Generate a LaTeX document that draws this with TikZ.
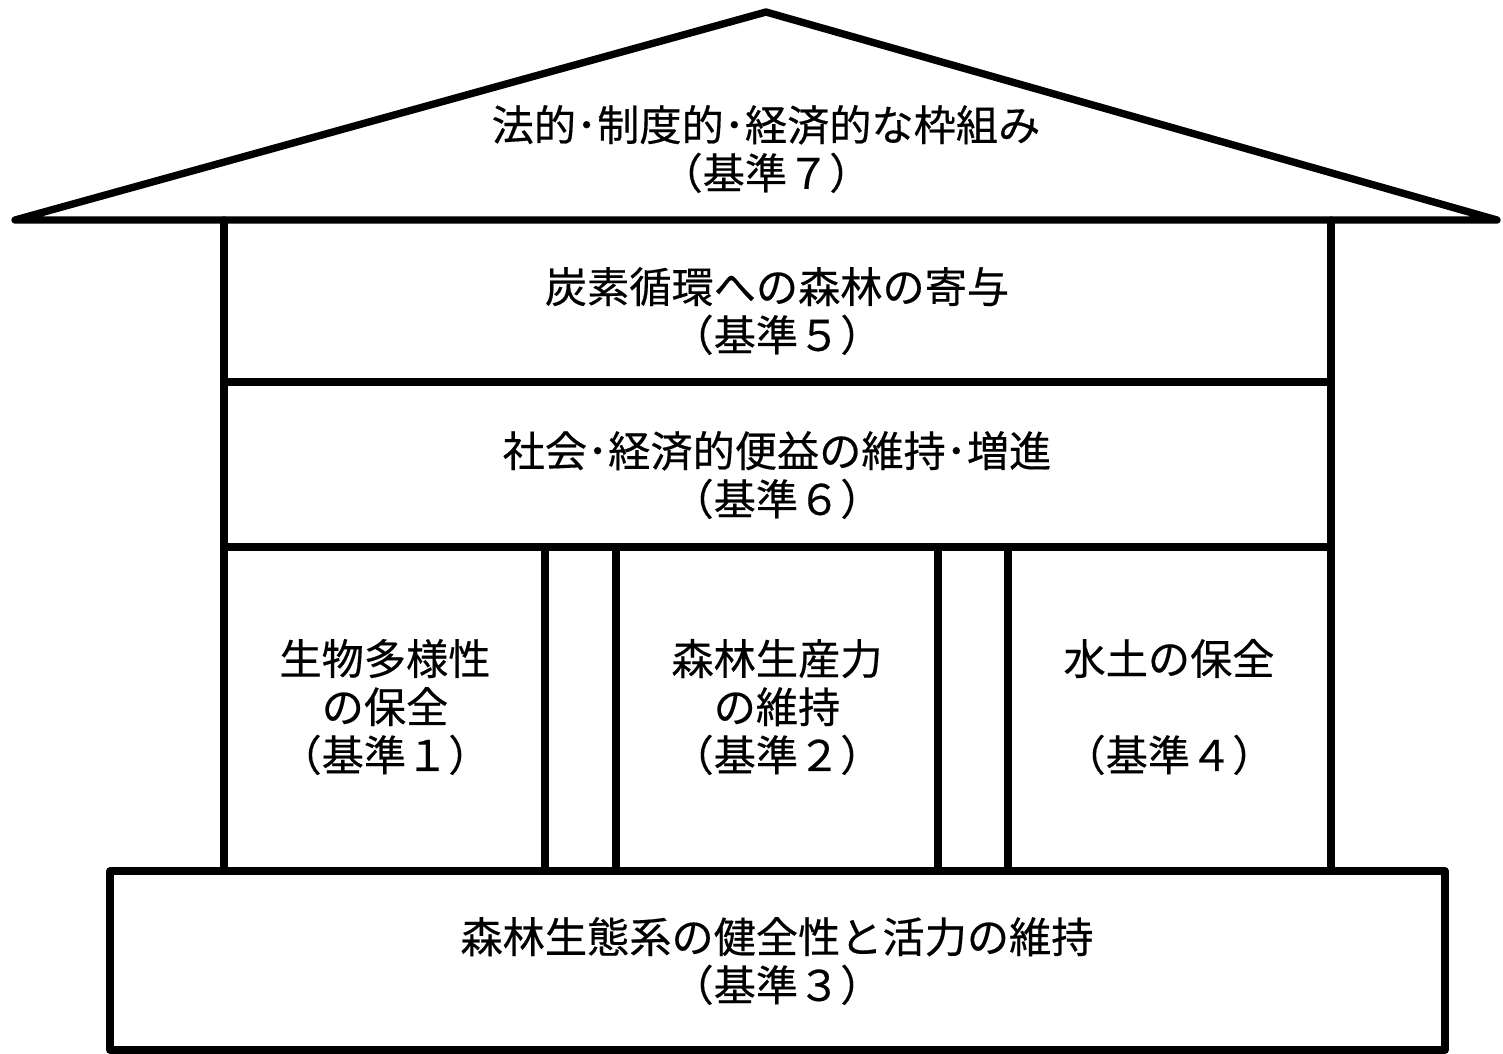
\documentclass[tikz,border=0pt]{standalone}
\usepackage{fontspec}
\newfontfamily\jp[FakeBold=0.4]{Noto Sans CJK JP}
\begin{document}
\begin{tikzpicture}[x=0.01cm,y=-0.01cm,
  ln/.style={line width=2.1pt,line join=round,line cap=round},
  lbl/.style={font=\jp\fontsize{12pt}{13.7pt}\selectfont,align=center,inner sep=0pt}]
\useasboundingbox (0,0) rectangle (1503,1053);
% roof
\draw[ln] (15,220) -- (766,12) -- (1497,220) -- cycle;
% walls
\draw[ln] (224,220) -- (224,871);
\draw[ln] (1331,220) -- (1331,871);
\draw[ln] (224,382) -- (1331,382);
\draw[ln] (224,547) -- (1331,547);
% pillars
\draw[ln] (545,547) -- (545,871);
\draw[ln] (616,547) -- (616,871);
\draw[ln] (938,547) -- (938,871);
\draw[ln] (1008,547) -- (1008,871);
% base
\draw[ln] (110,871) rectangle (1445,1050);
% labels
\node[lbl] (c7) at (766,149) {法的･制度的･経済的な枠組み\\（基準７）};
\node[lbl] (c5) at (777,311) {炭素循環への森林の寄与\\（基準５）};
\node[lbl] (c6) at (777,475) {社会･経済的便益の維持･増進\\（基準６）};
\node[lbl] (c1) at (385,707) {生物多様性\\の保全\\（基準１）};
\node[lbl] (c2) at (777,707) {森林生産力\\の維持\\（基準２）};
\node[lbl] (c4) at (1169,707) {水土の保全\\\mbox{}\\（基準４）};
\node[lbl] (c3) at (777,961) {森林生態系の健全性と活力の維持\\（基準３）};
\end{tikzpicture}
\end{document}
